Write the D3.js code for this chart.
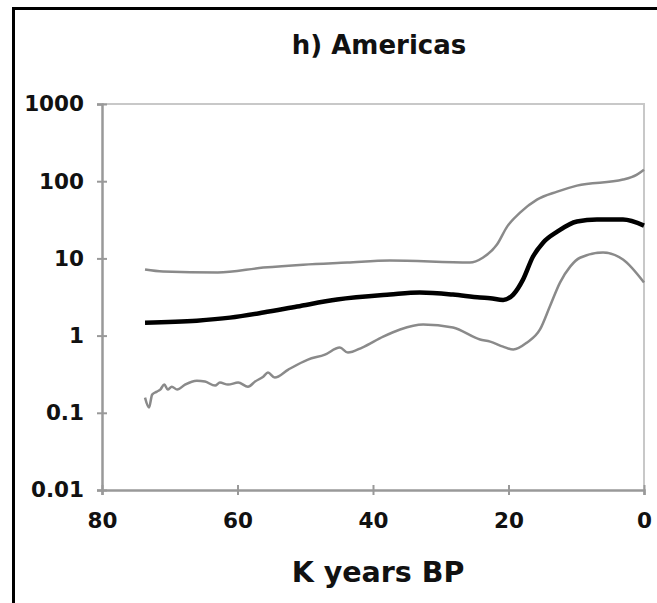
<!DOCTYPE html>
<html lang="en">
<head>
    <meta charset="UTF-8">
    <title>h) Americas</title>
    <script src="https://cdnjs.cloudflare.com/ajax/libs/d3/7.8.5/d3.min.js"></script>
    <style>
        body { margin: 0; background: #fff; }
        text { font-family: "DejaVu Sans", Verdana, sans-serif; font-weight: bold; fill: #111; }
    </style>
</head>
<body>
<svg id="chart" width="657" height="603"></svg>
<script>
    // K years BP and the three curves (upper bound, median, lower bound)
    var upperKya = [73.65, 71.0, 62.9, 56.2, 50.3, 43.8, 37.5, 25.7, 23.8, 21.7, 20.2, 18.3, 15.8, 12.8, 9.9, 3.1, 1.1, 0];
    var upperVal = [7.16, 6.75, 6.55, 7.6, 8.3, 8.83, 9.37, 8.83, 10.2, 15.1, 25.8, 39.2, 57.8, 73.3, 87.7, 105, 121, 141];

    var medianKya = [73.65, 66.0, 61.1, 56.2, 51.2, 45.3, 37.5, 33.1, 28.2, 24.2, 22.7, 20.8, 19.3, 17.86, 16.4, 14.9, 12.8, 9.9, 6.94, 3.1, 0];
    var medianVal = [1.47, 1.56, 1.71, 1.99, 2.38, 2.93, 3.40, 3.61, 3.40, 3.11, 3.05, 2.90, 3.40, 5.31, 10.5, 16.0, 22.2, 30.0, 31.8, 31.8, 26.6];

    var lowerKya = [73.65, 73.06, 72.6, 71.9, 71.4, 70.8, 70.3, 69.7, 68.9, 67.75, 66.0, 64.8, 63.3, 62.6, 61.4, 59.9, 58.45, 57.4, 56.2, 55.5, 54.5, 52.5, 49.6, 47.1, 44.9, 43.7, 41.6, 38.5, 36.0, 32.6, 28.2, 24.2, 22.7, 20.8, 19.3, 17.3, 15.35, 13.9, 12.4, 10.9, 9.45, 6.05, 3.1, 0];
    var lowerVal = [0.157, 0.117, 0.172, 0.188, 0.200, 0.232, 0.200, 0.218, 0.200, 0.232, 0.261, 0.254, 0.225, 0.246, 0.232, 0.246, 0.218, 0.254, 0.294, 0.332, 0.286, 0.363, 0.489, 0.567, 0.70, 0.602, 0.70, 0.97, 1.20, 1.39, 1.27, 0.89, 0.836, 0.72, 0.66, 0.81, 1.20, 2.38, 4.86, 7.83, 10.2, 11.9, 9.65, 4.86];

    var xTicks = [80, 60, 40, 20, 0];
    var yTicks = [0.01, 0.1, 1, 10, 100, 1000];

    var svg = d3.select("#chart");

    // outer frame of the figure panel (cropped at right and bottom)
    svg.append("rect")
        .attr("x", 13.5).attr("y", 8.5)
        .attr("width", 800).attr("height", 800)
        .attr("fill", "none")
        .attr("stroke", "#000")
        .attr("stroke-width", 3);

    var x = d3.scaleLinear().domain([80, 0]).range([102, 644]);
    var y = d3.scaleLog().domain([0.01, 1000]).range([490, 104]);

    // plot box, light grey on top and right
    svg.append("path")
        .attr("d", "M" + x(80) + "," + y(1000) + "H" + x(0) + "V" + y(0.01))
        .attr("fill", "none")
        .attr("stroke", "#c8c8c8")
        .attr("stroke-width", 2);

    // axes
    var yAxis = svg.append("g")
        .attr("transform", "translate(" + x(80) + ",0)")
        .call(d3.axisLeft(y).tickValues(yTicks).tickFormat(d3.format("~g")).tickSize(5).tickPadding(13));
    var xAxis = svg.append("g")
        .attr("transform", "translate(0," + y(0.01) + ")")
        .call(d3.axisBottom(x).tickValues(xTicks).tickFormat(d3.format("d")).tickSize(5).tickPadding(18));

    [yAxis, xAxis].forEach(function(g) {
        g.select(".domain").attr("stroke", "#999").attr("stroke-width", 2.5);
        g.selectAll(".tick line").attr("stroke", "#999").attr("stroke-width", 2);
        g.selectAll(".tick text").style("font-size", "21.5px").attr("fill", "#111");
    });
    // ticks cross the axis line
    yAxis.selectAll(".tick line").attr("x1", 5);
    xAxis.selectAll(".tick line").attr("y1", -5);

    // points run left to right on screen, so monotone-x keeps the bends smooth
    var line = d3.line()
        .x(function(d) { return x(d[0]); })
        .y(function(d) { return y(d[1]); })
        .curve(d3.curveMonotoneX);

    function pairs(ks, vs) { return ks.map(function(k, i) { return [k, vs[i]]; }); }

    svg.append("path")
        .datum(pairs(upperKya, upperVal))
        .attr("d", line)
        .attr("fill", "none").attr("stroke", "#8a8a8a").attr("stroke-width", 2.5);
    svg.append("path")
        .datum(pairs(lowerKya, lowerVal))
        .attr("d", line)
        .attr("fill", "none").attr("stroke", "#8a8a8a").attr("stroke-width", 2.5);
    svg.append("path")
        .datum(pairs(medianKya, medianVal))
        .attr("d", line)
        .attr("fill", "none").attr("stroke", "#000").attr("stroke-width", 4.5);

    svg.append("text")
        .attr("x", 379).attr("y", 54)
        .attr("text-anchor", "middle")
        .style("font-size", "26px")
        .text("h) Americas");

    svg.append("text")
        .attr("x", 378).attr("y", 582)
        .attr("text-anchor", "middle")
        .style("font-size", "28.5px")
        .text("K years BP");
</script>
</body>
</html>
